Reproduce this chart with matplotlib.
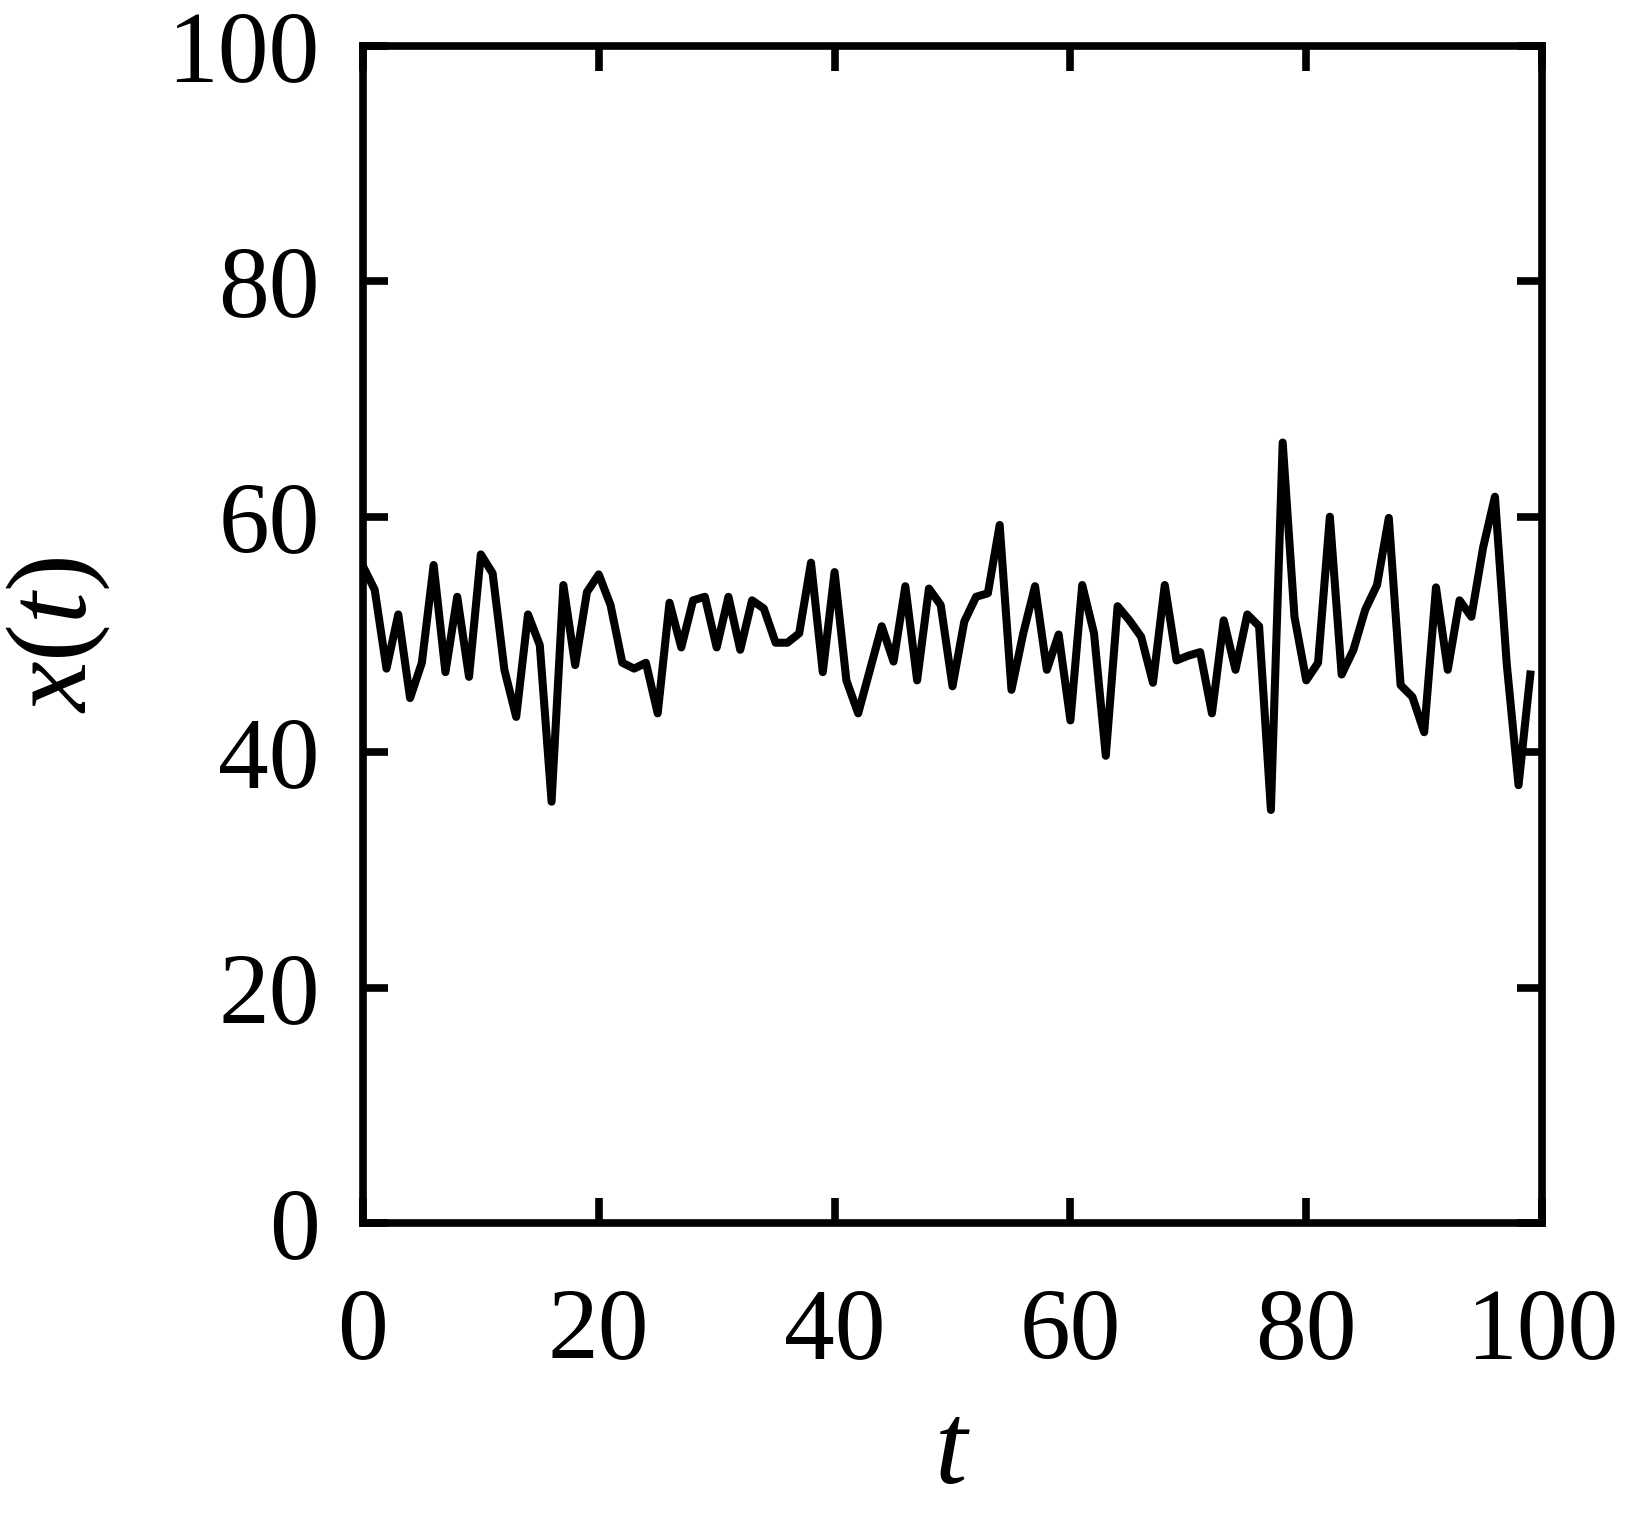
import matplotlib
matplotlib.use("Agg")
import matplotlib.pyplot as plt

# time series, t = 0..99
t = list(range(100))
x = [
    55.8, 53.8, 47.1, 51.7, 44.6, 47.6, 55.9, 46.8, 53.2, 46.4,
    56.8, 55.2, 47.0, 43.0, 51.7, 49.1, 35.8, 54.2, 47.4, 53.6,
    55.1, 52.5, 47.6, 47.1, 47.6, 43.3, 52.7, 48.9, 52.9, 53.2,
    48.9, 53.2, 48.7, 52.9, 52.2, 49.3, 49.3, 50.1, 56.1, 46.8,
    55.3, 46.1, 43.3, 47.0, 50.7, 47.7, 54.1, 46.1, 53.9, 52.5,
    45.6, 51.1, 53.2, 53.5, 59.3, 45.3, 50.1, 54.1, 47.0, 50.0,
    42.7, 54.2, 50.1, 39.7, 52.4, 51.2, 49.8, 45.9, 54.2, 47.8,
    48.2, 48.5, 43.3, 51.2, 47.0, 51.7, 50.7, 35.1, 66.3, 51.5,
    46.1, 47.6, 60.0, 46.6, 48.7, 52.1, 54.2, 59.9, 45.7, 44.7,
    41.7, 54.0, 47.0, 52.9, 51.5, 57.4, 61.7, 47.5, 37.2, 46.6,
]
ticks = [0, 20, 40, 60, 80, 100]

plt.rcParams['font.family'] = 'Liberation Serif'
plt.rcParams['mathtext.fontset'] = 'custom'
plt.rcParams['mathtext.rm'] = 'Liberation Serif'
plt.rcParams['mathtext.it'] = 'Liberation Serif:italic'

fig = plt.figure(figsize=(16.31, 15.13), dpi=100)
ax = fig.add_axes([0.2225, 0.1915, 0.7230, 0.7783])

ax.plot(t, x, color='black', linewidth=5.8, solid_joinstyle='round')

ax.set_xlim(0, 100)
ax.set_ylim(0, 100)
ax.set_xticks(ticks)
ax.set_yticks(ticks)

for s in ax.spines.values():
    s.set_linewidth(5.5)

ax.tick_params(direction='in', length=18, width=5.5, labelsize=73,
               top=True, right=True)
ax.tick_params(axis='x', pad=46)
ax.tick_params(axis='y', pad=31)

ax.set_xlabel('$t$', fontsize=84, labelpad=16)
ax.set_ylabel('$x(t)$', fontsize=82, labelpad=40)

fig.savefig('out.png', dpi=100)
